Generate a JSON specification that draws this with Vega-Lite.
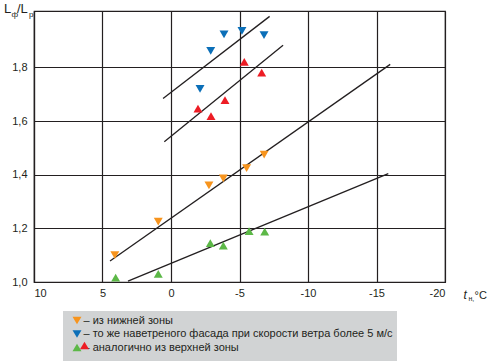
{
  "$schema": "https://vega.github.io/schema/vega-lite/v6.json",
  "width": 411,
  "height": 271,
  "autosize": {"type": "none"},
  "padding": {"left": 34, "top": 11, "right": 43, "bottom": 79},
  "background": "white",
  "config": {
    "view": {"stroke": "#231f20", "strokeWidth": 1.2},
    "font": "Liberation Sans",
    "axis": {
      "labelFont": "Liberation Sans",
      "labelFontSize": 11,
      "labelColor": "#231f20",
      "titleFont": "Liberation Sans",
      "titleColor": "#231f20",
      "titleFontWeight": "normal",
      "titleAngle": 0,
      "titleAlign": "left",
      "titleBaseline": "alphabetic",
      "gridColor": "#231f20",
      "gridOpacity": 1,
      "gridWidth": 1.2,
      "domainColor": "#231f20",
      "domainWidth": 1.2,
      "ticks": false
    }
  },
  "datasets": {
    "points": [
      {"series": "из нижней зоны", "t": 4.1, "v": 1.1},
      {"series": "из нижней зоны", "t": 0.93, "v": 1.225},
      {"series": "из нижней зоны", "t": -2.77, "v": 1.36},
      {"series": "из нижней зоны", "t": -3.82, "v": 1.386},
      {"series": "из нижней зоны", "t": -5.52, "v": 1.424},
      {"series": "из нижней зоны", "t": -6.8, "v": 1.475},
      {"series": "то же наветреного фасада при скорости ветра более 5 м/с", "t": -3.87, "v": 1.923},
      {"series": "то же наветреного фасада при скорости ветра более 5 м/с", "t": -5.18, "v": 1.936},
      {"series": "то же наветреного фасада при скорости ветра более 5 м/с", "t": -6.79, "v": 1.92},
      {"series": "то же наветреного фасада при скорости ветра более 5 м/с", "t": -2.9, "v": 1.861},
      {"series": "то же наветреного фасада при скорости ветра более 5 м/с", "t": -2.12, "v": 1.72},
      {"series": "аналогично из верхней зоны", "t": 4.04, "v": 1.016},
      {"series": "аналогично из верхней зоны", "t": 0.93, "v": 1.03},
      {"series": "аналогично из верхней зоны", "t": -2.87, "v": 1.145},
      {"series": "аналогично из верхней зоны", "t": -3.82, "v": 1.136},
      {"series": "аналогично из верхней зоны", "t": -5.7, "v": 1.19},
      {"series": "аналогично из верхней зоны", "t": -6.84, "v": 1.188},
      {"series": "аналогично из верхней зоны, наветреный фасад", "t": -5.35, "v": 1.82},
      {"series": "аналогично из верхней зоны, наветреный фасад", "t": -6.62, "v": 1.78},
      {"series": "аналогично из верхней зоны, наветреный фасад", "t": -3.94, "v": 1.678},
      {"series": "аналогично из верхней зоны, наветреный фасад", "t": -1.97, "v": 1.646},
      {"series": "аналогично из верхней зоны, наветреный фасад", "t": -2.92, "v": 1.618}
    ],
    "lines": [
      {"line": "blue", "t": 0.58, "v": 1.684},
      {"line": "blue", "t": -7.2, "v": 1.99},
      {"line": "red", "t": 0.49, "v": 1.523},
      {"line": "red", "t": -8.18, "v": 1.882},
      {"line": "orange", "t": 4.45, "v": 1.078},
      {"line": "orange", "t": -16.0, "v": 1.811},
      {"line": "green", "t": 3.14, "v": 1.003},
      {"line": "green", "t": -15.86, "v": 1.404}
    ]
  },
  "layer": [
    {
      "data": {"name": "lines"},
      "transform": [{"filter": "datum.line == 'blue' || datum.line == 'red'"}],
      "mark": {"type": "line", "color": "#231f20", "strokeWidth": 1.3},
      "encoding": {
        "x": {
          "field": "t", "type": "quantitative",
          "scale": {"domain": [10, -20], "nice": false, "zero": false},
          "axis": {
            "orient": "bottom", "grid": true,
            "values": [10, 5, 0, -5, -10, -15, -20],
            "labelExpr": "'' + datum.value",
            "labelPadding": 5,
            "title": "t", "titleFontStyle": "italic", "titleFontSize": 12,
            "titleX": 429, "titleY": 16
          }
        },
        "y": {
          "field": "v", "type": "quantitative",
          "scale": {"domain": [1, 2.01], "nice": false, "zero": false},
          "axis": {
            "orient": "left", "grid": true,
            "values": [1, 1.2, 1.4, 1.6, 1.8],
            "labelExpr": "replace(format(datum.value, '.1f'), '.', ',')",
            "labelPadding": 7,
            "title": "L", "titleFontSize": 13,
            "titleX": -30.5, "titleY": 1.7
          }
        },
        "detail": {"field": "line"}
      }
    },
    {
      "data": {"name": "lines"},
      "transform": [{"filter": "datum.line == 'orange' || datum.line == 'green'"}],
      "mark": {"type": "line", "color": "#231f20", "strokeWidth": 1.3},
      "encoding": {
        "x": {
          "field": "t", "type": "quantitative",
          "scale": {"domain": [10, -20], "nice": false, "zero": false},
          "axis": {
            "orient": "bottom", "grid": false, "labels": false, "domain": false,
            "title": "н,", "titleFontSize": 7,
            "titleX": 434, "titleY": 18.5
          }
        },
        "y": {
          "field": "v", "type": "quantitative",
          "scale": {"domain": [1, 2.01], "nice": false, "zero": false},
          "axis": {
            "orient": "left", "grid": false, "labels": false, "domain": false,
            "title": "ф", "titleFontSize": 8,
            "titleX": -23, "titleY": 5
          }
        },
        "detail": {"field": "line"}
      }
    },
    {
      "data": {"name": "points"},
      "transform": [{"filter": "datum.series != 'аналогично из верхней зоны, наветреный фасад'"}],
      "mark": {"type": "point", "filled": true, "opacity": 1, "size": 80},
      "encoding": {
        "x": {
          "field": "t", "type": "quantitative",
          "scale": {"domain": [10, -20], "nice": false, "zero": false},
          "axis": {
            "orient": "bottom", "grid": false, "labels": false, "domain": false,
            "title": "°C", "titleFontSize": 11,
            "titleX": 440, "titleY": 16
          }
        },
        "y": {
          "field": "v", "type": "quantitative",
          "scale": {"domain": [1, 2.01], "nice": false, "zero": false},
          "axis": {
            "orient": "left", "grid": false, "labels": false, "domain": false,
            "title": "/L", "titleFontSize": 13,
            "titleX": -17.5, "titleY": 1.7
          }
        },
        "color": {
          "field": "series",
          "type": "nominal",
          "scale": {
            "domain": ["из нижней зоны", "то же наветреного фасада при скорости ветра более 5 м/с", "аналогично из верхней зоны"],
            "range": ["#f7941d", "#0b6fb8", "#5cb847"]
          },
          "legend": {
            "orient": "none", "legendX": 29, "legendY": 300,
            "title": "\u00a0", "titleOrient": "bottom", "titleFontSize": 12, "titlePadding": 0,
            "fillColor": "#d1d3d4", "padding": 4, "symbolOffset": 4.5,
            "labelFont": "Liberation Sans", "labelFontSize": 11, "labelColor": "#231f20",
            "labelOffset": 1, "labelLimit": 0, "rowPadding": 1.5, "symbolSize": 80, "symbolStrokeWidth": 0,
            "labelExpr": "datum.label == 'аналогично из верхней зоны' ? '\u00a0\u00a0\u00a0– ' + datum.label : '– ' + datum.label"
          }
        },
        "shape": {
          "field": "series",
          "type": "nominal",
          "scale": {
            "domain": ["из нижней зоны", "то же наветреного фасада при скорости ветра более 5 м/с", "аналогично из верхней зоны"],
            "range": ["triangle-down", "triangle-down", "triangle-up"]
          },
          "legend": {
            "orient": "none", "legendX": 29, "legendY": 300,
            "title": "\u00a0", "titleOrient": "bottom", "titleFontSize": 12, "titlePadding": 0,
            "fillColor": "#d1d3d4", "padding": 4, "symbolOffset": 4.5,
            "labelFont": "Liberation Sans", "labelFontSize": 11, "labelColor": "#231f20",
            "labelOffset": 1, "labelLimit": 0, "rowPadding": 1.5, "symbolSize": 80, "symbolStrokeWidth": 0,
            "labelExpr": "datum.label == 'аналогично из верхней зоны' ? '\u00a0\u00a0\u00a0– ' + datum.label : '– ' + datum.label"
          }
        }
      }
    },
    {
      "data": {"name": "points"},
      "transform": [{"filter": "datum.series == 'аналогично из верхней зоны, наветреный фасад'"}],
      "mark": {"type": "point", "filled": true, "opacity": 1, "size": 80},
      "encoding": {
        "x": {
          "field": "t", "type": "quantitative",
          "scale": {"domain": [10, -20], "nice": false, "zero": false},
          "axis": null
        },
        "y": {
          "field": "v", "type": "quantitative",
          "scale": {"domain": [1, 2.01], "nice": false, "zero": false},
          "axis": {
            "orient": "left", "grid": false, "labels": false, "domain": false,
            "title": "р", "titleFontSize": 8,
            "titleX": -5.5, "titleY": 5
          }
        },
        "color": {
          "field": "series",
          "type": "nominal",
          "scale": {"range": ["#ed1c24"]},
          "legend": {
            "orient": "none", "legendX": 45, "legendY": 329,
            "title": null, "padding": 0, "labelExpr": "''", "labelFontSize": 11,
            "symbolSize": 80, "symbolStrokeWidth": 0
          }
        },
        "shape": {
          "field": "series",
          "type": "nominal",
          "scale": {"range": ["triangle-up"]},
          "legend": {
            "orient": "none", "legendX": 45, "legendY": 329,
            "title": null, "padding": 0, "labelExpr": "''", "labelFontSize": 11,
            "symbolSize": 80, "symbolStrokeWidth": 0
          }
        }
      }
    }
  ],
  "resolve": {
    "scale": {"color": "independent", "shape": "independent"},
    "axis": {"x": "independent", "y": "independent"}
  }
}
